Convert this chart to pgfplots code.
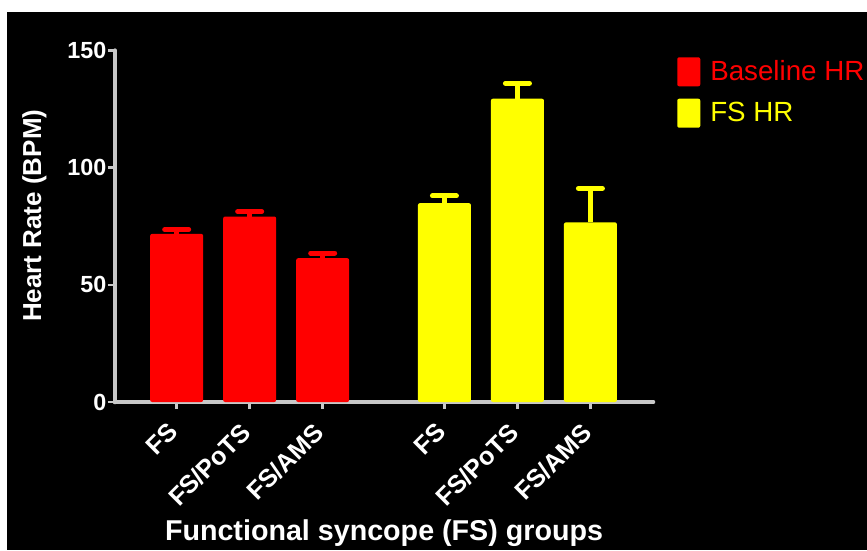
\documentclass[border=0pt]{standalone}
\usepackage{pgfplots}
\usepackage{pgfplotstable}
\pgfplotsset{compat=1.18}
\usepackage{fontspec}
\setmainfont{Liberation Sans}

\definecolor{axisgray}{RGB}{200,200,200}
\definecolor{barred}{RGB}{255,0,0}
\definecolor{baryellow}{RGB}{255,255,0}

% filled square used as legend marker
\pgfplotsset{squarelegend/.style={
  legend image code/.code={\fill[##1] (0pt,-11.3pt) rectangle (17.25pt,10.5pt);}}}

% heart rate per group: mean and SEM (upper error bar only)
\pgfplotstableread{
x      y      err
0      71.8   1.8
1      79.2   2.1
2      61.4   2.2
}\tblbase
\pgfplotstableread{
x      y      err
3.668  84.9   3.1
4.668  129.5  6.6
5.668  76.7   14.5
}\tblfs

\begin{document}
\begin{tikzpicture}
\useasboundingbox (0,0) rectangle (650.25pt,-412.5pt);
\fill[white] (0,0) rectangle (650.25pt,-412.5pt);
\fill[black] (5.25pt,-8.75pt) rectangle (650.25pt,-412.5pt);
\begin{axis}[
  at={(86.25pt,-301.5pt)}, anchor=south west,
  scale only axis, width=403.5pt, height=263.5pt,
  xmin=-0.845, xmax=6.525, ymin=0, ymax=150,
  axis lines*=left,
  axis line style={axisgray, line width=3.5pt, line cap=round},
  tick style={axisgray, line width=2pt},
  major tick length=5.25pt, tick align=outside,
  ytick={0,50,100,150},
  xtick={0,1,2,3.668,4.668,5.668},
  xticklabels={FS,FS/PoTS,FS/AMS,FS,FS/PoTS,FS/AMS},
  /pgf/number format/assume math mode=true,
  ticklabel style={white, font=\bfseries\fontsize{17.5}{20}\selectfont},
  yticklabel style={inner sep=1pt},
  xticklabel style={xshift=-7.5pt, yshift=-7.5pt, rotate=45, anchor=north east, inner sep=1pt,
    font=\bfseries\fontsize{19}{22}\selectfont},
  xlabel={Functional syncope (FS) groups},
  ylabel={Heart Rate (BPM)},
  every axis x label/.style={at={(axis description cs:0.5,-0.393)}, anchor=base,
    white, font=\bfseries\fontsize{21.5}{24}\selectfont},
  every axis y label/.style={at={(axis description cs:-0.15,0.53)}, rotate=90, anchor=center,
    white, font=\bfseries\fontsize{19.5}{22}\selectfont},
  legend style={at={(axis description cs:1.0446,0.982)}, anchor=north west,
    draw=none, fill=none, inner sep=0pt, row sep=9.25pt, column sep=7.5pt,
    font=\fontsize{20.8}{24}\selectfont, nodes={inner sep=0pt}},
  legend cell align=left,
  clip=false,
]
\addplot[ybar, bar width=39.75pt, bar shift=0pt, fill=barred, draw=none,
  rounded corners=1.5pt, squarelegend,
  error bars/.cd, y dir=plus, y explicit,
  error bar style={barred, line width=3.4pt, sharp corners},
  error mark options={rotate=90, barred, line width=3.75pt, mark size=9pt, line cap=round}]
  table[x=x, y=y, y error=err]{\tblbase};
\addlegendentry{\textcolor{barred}{Baseline HR}}
\addplot[ybar, bar width=39.75pt, bar shift=0pt, fill=baryellow, draw=none,
  rounded corners=1.5pt, squarelegend,
  error bars/.cd, y dir=plus, y explicit,
  error bar style={baryellow, line width=3.4pt, sharp corners},
  error mark options={rotate=90, baryellow, line width=3.75pt, mark size=9pt, line cap=round}]
  table[x=x, y=y, y error=err]{\tblfs};
\addlegendentry{\textcolor{baryellow}{FS HR}}
\end{axis}
\end{tikzpicture}
\end{document}
